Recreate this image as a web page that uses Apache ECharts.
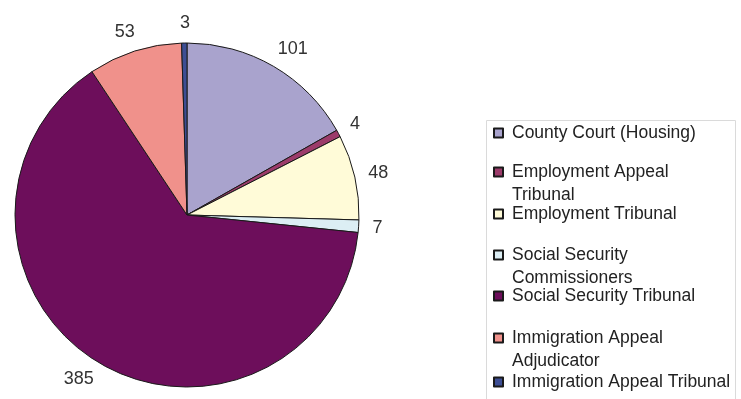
<!DOCTYPE html>
<html>
<head>
<meta charset="utf-8">
<script src="https://cdn.jsdelivr.net/npm/echarts@6/dist/echarts.min.js"></script>
<style>html,body{margin:0;padding:0;background:#fff;}#c{width:741px;height:399px;}</style>
</head>
<body>
<div id="c"></div>
<script>
// Data
const categories = [
  'County Court (Housing)',
  'Employment Appeal Tribunal',
  'Employment Tribunal',
  'Social Security Commissioners',
  'Social Security Tribunal',
  'Immigration Appeal Adjudicator',
  'Immigration Appeal Tribunal'
];
const values = [101, 4, 48, 7, 385, 53, 3];
const legendLabels = [
  'County Court (Housing)',
  'Employment Appeal\nTribunal',
  'Employment Tribunal',
  'Social Security\nCommissioners',
  'Social Security Tribunal',
  'Immigration Appeal\nAdjudicator',
  'Immigration Appeal Tribunal'
];
const colors = ['#A9A3CD', '#9C3B6A', '#FFFBD8', '#DCEEF4', '#6D0E5B', '#F0918B', '#3D4E94'];

// Layout (styling only)
const legendCenters = [133, 172, 214, 255, 296, 338, 382];
const LH = 23;

const chart = echarts.init(document.getElementById('c'), null, {renderer: 'canvas'});

const legends = categories.map((name, i) => {
  const twoLine = legendLabels[i].indexOf('\n') >= 0;
  // two-line entries get an empty leading line so the icon lines up with the first text line
  const text = twoLine ? ' \n' + legendLabels[i] : legendLabels[i];
  const top = legendCenters[i] - (twoLine ? LH * 1.5 : LH / 2);
  return {
    orient: 'vertical',
    left: 493,
    top: top,
    padding: 0,
    itemWidth: 9,
    itemHeight: 9,
    icon: 'rect',
    selectedMode: false,
    formatter: () => text,
    textStyle: {
      fontFamily: 'Liberation Sans, Arial, sans-serif',
      fontSize: 17.5,
      color: '#222',
      lineHeight: LH,
      padding: [0, 0, 0, 4]
    },
    data: [{name: name}]
  };
});

chart.setOption({
  animation: false,
  backgroundColor: '#fff',
  color: colors,
  legend: legends,
  graphic: [{
    type: 'rect',
    shape: {x: 486.5, y: 120.5, width: 249, height: 300},
    style: {fill: 'none', stroke: '#dadada', lineWidth: 1},
    z: -1
  }],
  series: [{
    type: 'pie',
    center: [187, 215],
    radius: 172,
    startAngle: 90,
    clockwise: true,
    avoidLabelOverlap: false,
    itemStyle: {borderColor: '#1a1a1a', borderWidth: 1},
    emphasis: {disabled: true},
    label: {
      show: true,
      position: 'outside',
      formatter: '{c}',
      fontFamily: 'Liberation Sans, Arial, sans-serif',
      fontSize: 18,
      color: '#333',
      distanceToLabelLine: 0
    },
    labelLine: {show: false, length: 20, length2: -6},
    data: categories.map((n, i) => ({name: n, value: values[i]}))
  }]
});
</script>
</body>
</html>
